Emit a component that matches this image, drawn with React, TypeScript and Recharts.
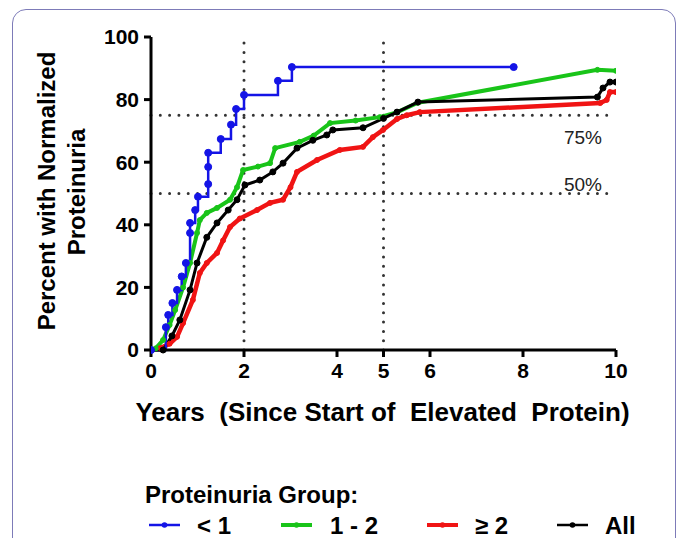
import React from "react";
import { LineChart, Line, XAxis, YAxis, ReferenceLine, Legend } from "recharts";

// ---- data ----
const xTicks = [0, 2, 4, 5, 6, 8, 10];
const yTicks = [0, 20, 40, 60, 80, 100];

const blueT = [0, 0.32, 0.37, 0.46, 0.56, 0.66, 0.75, 0.84, 0.84, 0.95, 1.01, 1.23, 1.23, 1.23, 1.5, 1.72, 1.83, 2.0, 2.73, 3.03, 7.8];
const blueP = [0, 7.3, 11.2, 15, 19.2, 23.5, 27.8, 37.4, 40.6, 44.7, 49, 53, 58.5, 63, 67.4, 72, 77, 81.5, 86, 90.4, 90.4];

const greenT = [0, 0.1, 0.26, 0.4, 0.52, 0.69, 0.84, 0.99, 1.05, 1.2, 1.42, 1.7, 1.85, 1.98, 2.3, 2.56, 2.67, 3.2, 3.5, 3.85, 4.4, 4.92, 5.3, 5.74, 9.6, 10.0];
const greenP = [0, 0.5, 3.2, 8, 12.8, 20, 27.8, 37.4, 41.5, 43.8, 45.4, 48, 52, 57.5, 58.6, 59.7, 64.5, 66.5, 68.5, 72.5, 73.3, 74.4, 76, 79, 89.5, 89.2];

const redT = [0, 0.2, 0.4, 0.56, 0.69, 0.9, 1.05, 1.2, 1.42, 1.55, 1.7, 1.91, 2.28, 2.56, 2.84, 3.0, 3.14, 3.57, 4.06, 4.56, 4.77, 4.99, 5.29, 5.5, 5.78, 9.66, 9.8, 9.87, 10.0];
const redP = [0, 0.6, 2, 4.2, 8.6, 16, 24.6, 27.8, 31, 35, 39.3, 42, 44.7, 47, 48, 52, 56.9, 60.7, 63.9, 64.9, 68, 70.3, 73.8, 75, 76, 78.9, 79.9, 82.4, 82.4];

const blackT = [0, 0.26, 0.45, 0.62, 0.84, 0.99, 1.2, 1.42, 1.66, 1.85, 2.02, 2.34, 2.62, 2.84, 3.14, 3.48, 3.78, 3.91, 4.56, 5.0, 5.29, 5.74, 9.6, 9.72, 9.87, 10.0];
const blackP = [0, 0, 4.5, 9.6, 19.2, 27.8, 36, 40.6, 44.7, 48, 52.7, 54.3, 56.9, 59.7, 64.5, 67, 68.7, 70.3, 71, 74, 76, 79.2, 80.8, 83.7, 85.6, 85.6];

const legendItems = [
  { label: "< 1", color: "#1414e6" },
  { label: "1 - 2", color: "#19c419" },
  { label: "\u2265 2", color: "#f01414" },
  { label: "All", color: "#000000" },
];

const toRows = (ts: number[], ps: number[]) => ts.map((t, i) => ({ t, p: ps[i] }));
const blueData = toRows(blueT, blueP);
const greenData = toRows(greenT, greenP);
const redData = toRows(redT, redP);
const blackData = toRows(blackT, blackP);

const FONT = "'Liberation Sans', Arial, Helvetica, sans-serif";

const tickStyle = { fill: "#000", fontSize: 21, fontWeight: 700, fontFamily: FONT };

const YTitle = () => (
  <g fontFamily={FONT} fontWeight={700} fontSize={24} fill="#000">
    <text transform="translate(55,191) rotate(-90)" textAnchor="middle">Percent with Normalized</text>
    <text transform="translate(85,192) rotate(-90)" textAnchor="middle">Proteinuria</text>
  </g>
);

const XTitle = (props: any) => {
  const vb = props.viewBox || { x: 151, width: 465, y: 350, height: 30 };
  return (
    <text x={vb.x + vb.width / 2 - 1} y={421} textAnchor="middle" fontFamily={FONT} fontWeight={700} fontSize={26} fill="#000" style={{ whiteSpace: "pre" }} xmlSpace="preserve">
      {"Years  (Since Start of  Elevated  Protein)"}
    </text>
  );
};

const pctLabel = (text: string, dy: number) => (props: any) => {
  const vb = props.viewBox || { x: 151, y: 0, width: 465 };
  return (
    <text x={vb.x + vb.width - 14} y={vb.y + dy} textAnchor="end" fontFamily={FONT} fontSize={19} fill="#222">
      {text}
    </text>
  );
};

const itemPos = [
  { lx: 149, tx: 197 },
  { lx: 281, tx: 330 },
  { lx: 427, tx: 475 },
  { lx: 557, tx: 605 },
];

const renderLegend = () => (
  <svg width={679} height={68} style={{ display: "block" }}>
    <text x={145} y={33} fontFamily={FONT} fontWeight={700} fontSize={24} fill="#000">Proteinuria Group:</text>
    {legendItems.map((it, i) => (
      <g key={it.label}>
        <line x1={itemPos[i].lx} x2={itemPos[i].lx + 31} y1={55} y2={55} stroke={it.color} strokeWidth={i === 0 || i === 3 ? 2.5 : 4} />
        <circle cx={itemPos[i].lx + 15.5} cy={55} r={2.8} fill={it.color} />
        <text x={itemPos[i].tx} y={64} fontFamily={FONT} fontWeight={700} fontSize={24} fill="#000">{it.label}</text>
      </g>
    ))}
  </svg>
);

const refStyle = { stroke: "#333", strokeWidth: 3, strokeDasharray: "0 9.3", strokeLinecap: "round" as const };

export default function App() {
  return (
    <div style={{ position: "absolute", left: 0, top: 0, width: 679, height: 538, overflow: "hidden", background: "#fff" }}>
      <div style={{ position: "absolute", left: 12, top: 9, width: 662, height: 600, border: "1.5px solid #7d7bb8", borderRadius: 14 }} />
      <div style={{ position: "absolute", left: 0, top: 0 }}>
        <LineChart width={679} height={538} margin={{ top: 37, right: 63, bottom: 90, left: 0 }}>
          <XAxis
            type="number"
            dataKey="t"
            domain={[0, 10]}
            ticks={xTicks}
            allowDataOverflow
            height={30}
            tick={tickStyle}
            tickSize={7}
            tickMargin={6}
            axisLine={{ stroke: "#000", strokeWidth: 3 }}
            tickLine={{ stroke: "#000", strokeWidth: 3 }}
            label={{ content: XTitle }}
          />
          <YAxis
            type="number"
            dataKey="p"
            domain={[0, 100]}
            ticks={yTicks}
            width={151}
            tick={tickStyle}
            tickSize={7}
            tickMargin={5}
            axisLine={{ stroke: "#000", strokeWidth: 3 }}
            tickLine={{ stroke: "#000", strokeWidth: 3 }}
            label={{ content: YTitle }}
          />
          <ReferenceLine x={2} {...refStyle} />
          <ReferenceLine x={5} {...refStyle} />
          <ReferenceLine y={75} {...refStyle} label={{ content: pctLabel("75%", 29) }} />
          <ReferenceLine y={50} {...refStyle} label={{ content: pctLabel("50%", -3) }} />
          <Line data={redData} dataKey="p" type="linear" stroke="#f01414" strokeWidth={4.5} dot={{ r: 2.5, fill: "#f01414", stroke: "#f01414", strokeWidth: 1 }} isAnimationActive={false} />
          <Line data={greenData} dataKey="p" type="linear" stroke="#19c419" strokeWidth={4} dot={{ r: 2.5, fill: "#19c419", stroke: "#19c419", strokeWidth: 1 }} isAnimationActive={false} />
          <Line data={blackData} dataKey="p" type="linear" stroke="#000" strokeWidth={3} dot={{ r: 3, fill: "#000", stroke: "#000", strokeWidth: 1 }} isAnimationActive={false} />
          <Line data={blueData} dataKey="p" type="stepAfter" stroke="#1414e6" strokeWidth={2.5} dot={{ r: 3.5, fill: "#1414e6", stroke: "#1414e6", strokeWidth: 1 }} isAnimationActive={false} />
          <Legend content={renderLegend} wrapperStyle={{ position: "absolute", left: 0, top: 470, width: 679, height: 68 }} />
        </LineChart>
      </div>
    </div>
  );
}
